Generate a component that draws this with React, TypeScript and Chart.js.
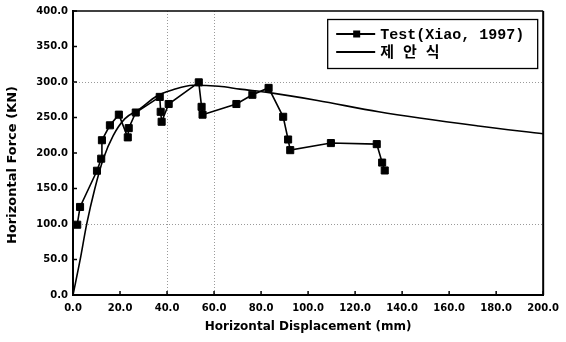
import React, { useEffect, useRef } from 'react';
import { Chart, registerables } from 'chart.js';

Chart.register(...registerables);

// Test (Xiao, 1997) envelope points
const testX = [1.8, 3.0, 10.2, 12.0, 12.3, 15.7, 19.5, 23.3, 23.7, 26.7, 36.9, 37.3, 37.7, 40.7, 53.5, 54.7, 55.1, 69.5, 76.3, 83.2, 89.4, 91.5, 92.4, 109.7, 129.2, 131.5, 132.6];
const testY = [99, 124, 175, 192, 218, 239, 254, 222, 235, 257, 279, 258, 244, 269, 299.5, 265, 254, 269, 282, 291.7, 251, 219, 204, 214, 212.5, 186.5, 175.4];

// 제안식 (proposed equation) curve
const curveX = [0, 3, 5.8, 9.3, 12.9, 17.1, 22, 28.4, 35.5, 42.5, 51, 62, 71, 83.5, 104, 130, 172.5, 200];
const curveY = [0, 49, 99.5, 150, 192, 224.5, 248, 262, 280, 289, 295.5, 294, 290, 285, 274, 258, 238, 227];

const xTickValues = [0, 20, 40, 60, 80, 100, 120, 140, 160, 180, 200];
const yTickValues = [0, 50, 100, 150, 200, 250, 300, 350, 400];
const gridXValues = [40, 60];
const gridYValues = [100, 300];

const legendLabels = ['Test(Xiao, 1997)', '제 안 식'];
const xTitle = 'Horizontal Displacement (mm)';
const yTitle = 'Horizontal Force (KN)';

const TICK_FONT = { family: '"DejaVu Sans", sans-serif', size: 10, weight: 'bold' as const };

const decor = {
  id: 'decor',
  beforeDatasetsDraw(chart: any) {
    const { ctx, chartArea: a, scales } = chart;
    const x = scales.x, y = scales.y;
    ctx.save();
    ctx.strokeStyle = '#9a9a9a';
    ctx.lineWidth = 1;
    ctx.setLineDash([1, 2]);
    gridXValues.forEach((v) => {
      const px = Math.round(x.getPixelForValue(v)) + 0.5;
      ctx.beginPath();
      ctx.moveTo(px, a.top);
      ctx.lineTo(px, a.bottom);
      ctx.stroke();
    });
    gridYValues.forEach((v) => {
      const py = Math.round(y.getPixelForValue(v)) + 0.5;
      ctx.beginPath();
      ctx.moveTo(a.left, py);
      ctx.lineTo(a.right, py);
      ctx.stroke();
    });
    ctx.restore();
  },
  afterDraw(chart: any) {
    const { ctx, chartArea: a, scales } = chart;
    const x = scales.x, y = scales.y;
    ctx.save();
    ctx.setLineDash([]);
    ctx.strokeStyle = '#000';
    // top and right frame
    ctx.lineWidth = 1.5;
    ctx.beginPath();
    ctx.moveTo(a.left, a.top);
    ctx.lineTo(a.right, a.top);
    ctx.stroke();
    ctx.lineWidth = 2;
    ctx.beginPath();
    ctx.moveTo(a.right, a.top);
    ctx.lineTo(a.right, a.bottom);
    ctx.stroke();
    // inner tick marks
    ctx.lineWidth = 1.5;
    xTickValues.forEach((v) => {
      const px = x.getPixelForValue(v);
      ctx.beginPath();
      ctx.moveTo(px, a.bottom);
      ctx.lineTo(px, a.bottom - 4);
      ctx.stroke();
    });
    yTickValues.forEach((v) => {
      const py = y.getPixelForValue(v);
      ctx.beginPath();
      ctx.moveTo(a.left, py);
      ctx.lineTo(a.left + 4, py);
      ctx.stroke();
    });
    // y axis title
    ctx.save();
    ctx.translate(13, 165);
    ctx.rotate(-Math.PI / 2);
    ctx.font = 'bold 13px "DejaVu Sans", sans-serif';
    ctx.fillStyle = '#000';
    ctx.textAlign = 'center';
    ctx.textBaseline = 'middle';
    ctx.fillText(yTitle, 0, 0);
    ctx.restore();
    // legend box
    const bx = a.right - 216, by = a.top + 8, bw = 210, bh = 49;
    ctx.lineWidth = 1.3;
    ctx.strokeRect(bx + 0.5, by + 0.5, bw, bh);
    const rows = [by + 15, by + 33];
    ctx.lineWidth = 1.8;
    rows.forEach((ry, i) => {
      ctx.beginPath();
      ctx.moveTo(bx + 9, ry);
      ctx.lineTo(bx + 48, ry);
      ctx.stroke();
      if (i === 0) {
        ctx.fillStyle = '#000';
        ctx.fillRect(bx + 26, ry - 3.5, 7, 7);
      }
      ctx.fillStyle = '#000';
      ctx.font = 'bold 15px "Liberation Mono", "Noto Sans CJK KR", monospace';
      ctx.textAlign = 'left';
      ctx.textBaseline = 'middle';
      ctx.fillText(legendLabels[i], bx + 53, ry + 1);
    });
    ctx.restore();
  },
};

export default function App() {
  const ref = useRef<HTMLCanvasElement>(null);
  useEffect(() => {
    document.body.style.margin = '0';
    const canvas = ref.current!;
    const chart = new Chart(canvas, {
      type: 'line',
      data: {
        datasets: [
          {
            label: legendLabels[1],
            data: curveX.map((v, i) => ({ x: v, y: curveY[i] })),
            borderColor: '#000',
            borderWidth: 1.6,
            pointRadius: 0,
            cubicInterpolationMode: 'monotone',
            fill: false,
          },
          {
            label: legendLabels[0],
            data: testX.map((v, i) => ({ x: v, y: testY[i] })),
            borderColor: '#000',
            backgroundColor: '#000',
            borderWidth: 1.6,
            pointStyle: 'rect',
            pointRadius: 5,
            pointBorderWidth: 1,
            pointBackgroundColor: '#000',
            pointBorderColor: '#000',
            tension: 0,
            fill: false,
          },
        ],
      },
      options: {
        animation: false,
        responsive: false,
        maintainAspectRatio: false,
        layout: { padding: { left: 0, top: 7, right: 21, bottom: 0 } },
        plugins: { legend: { display: false }, tooltip: { enabled: false } },
        scales: {
          x: {
            type: 'linear',
            min: 0,
            max: 200,
            afterFit: (s: any) => { s.height = 47; },
            ticks: {
              stepSize: 20,
              callback: (v: any) => Number(v).toFixed(1),
              font: TICK_FONT,
              color: '#000',
              padding: 7,
              maxRotation: 0,
            },
            grid: { display: false, drawTicks: false },
            border: { display: true, color: '#000', width: 2 },
            title: {
              display: true,
              text: xTitle,
              color: '#000',
              font: { family: '"DejaVu Sans", sans-serif', size: 12, weight: 'bold' },
              padding: { top: 0, bottom: 8 },
            },
          },
          y: {
            type: 'linear',
            min: 0,
            max: 400,
            afterFit: (s: any) => { s.width = 73; },
            ticks: {
              stepSize: 50,
              callback: (v: any) => Number(v).toFixed(1),
              font: TICK_FONT,
              color: '#000',
              padding: 5,
            },
            grid: { display: false, drawTicks: false },
            border: { display: true, color: '#000', width: 2 },
          },
        },
      },
      plugins: [decor],
    } as any);
    return () => chart.destroy();
  }, []);
  return (
    <div style={{ width: 566, height: 342 }}>
      <canvas ref={ref} width={566} height={342} style={{ display: 'block' }} />
    </div>
  );
}
